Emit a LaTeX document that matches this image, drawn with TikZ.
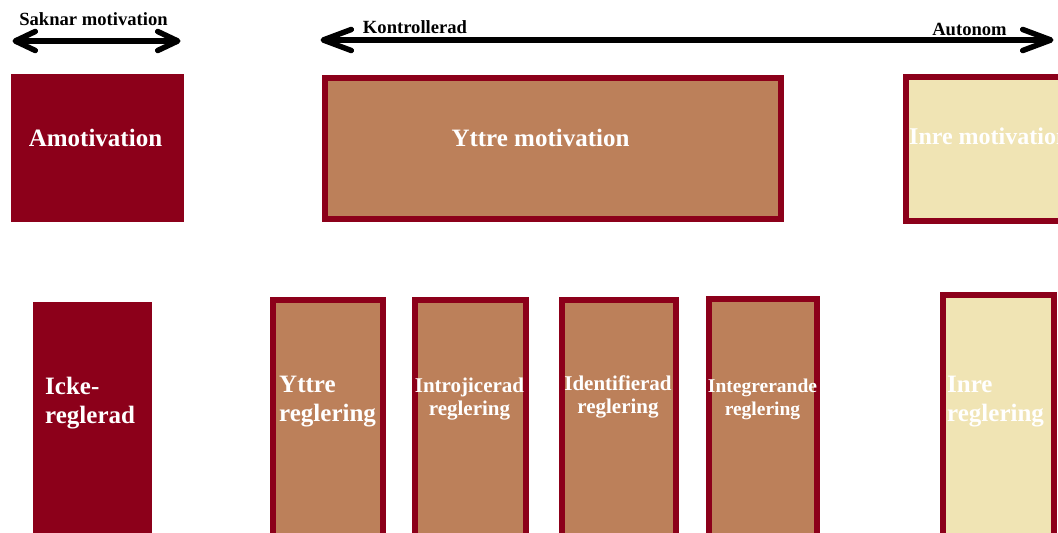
\documentclass[tikz,border=0pt]{standalone}
\usepackage{fontspec}
\setmainfont{Liberation Serif}
\usetikzlibrary{arrows.meta}
\definecolor{motred}{RGB}{140,0,26}
\definecolor{mottan}{RGB}{188,128,90}
\definecolor{motpale}{RGB}{240,228,180}

\begin{document}
\begin{tikzpicture}[x=1pt, y=-1pt,
  darkbox/.style={rectangle, fill=motred, inner sep=0},
  tanbox/.style={rectangle, fill=mottan, draw=motred, line width=6pt, inner sep=0},
  palebox/.style={rectangle, fill=motpale, draw=motred, line width=6pt, inner sep=0},
  bigtext/.style={text=white, inner sep=0, font=\fontsize{25}{29}\selectfont\bfseries},
  smalltext/.style={text=white, inner sep=0, font=\fontsize{21}{23.5}\selectfont\bfseries},
  arrowtext/.style={text=black, inner sep=0, font=\fontsize{18.6}{22}\selectfont\bfseries},
  motarrow/.style={line width=5.5pt, line cap=round,
    {Straight Barb[round, length=28pt, width=21pt]}-{Straight Barb[round, length=28pt, width=21pt]}},
  smallarrow/.style={line width=5.5pt, line cap=round,
    {Straight Barb[round, length=20pt, width=19pt]}-{Straight Barb[round, length=20pt, width=19pt]}}]
  \useasboundingbox (0,0) rectangle (1058,533);
  \clip (0,0) rectangle (1058,533);

  % Top boxes
  \draw (97.5,148)  node(amot)  [darkbox, minimum width=173, minimum height=148] {};
  \draw (553,148.5) node(ytmot) [tanbox,  minimum width=456, minimum height=141] {};
  \draw (996.5,149) node(inmot) [palebox, minimum width=181, minimum height=144] {};

  \draw (95.5,146)  node(amottext)  [bigtext, anchor=base] {Amotivation};
  \draw (540.5,146) node(ytmottext) [bigtext, anchor=base] {Yttre motivation};
  \draw (909,144)   node(inmottext) [bigtext, anchor=base west, font=\fontsize{24}{28}\selectfont\bfseries] {Inre motivation};

  % Bottom boxes
  \draw (92.5,421)  node(icke)  [darkbox, minimum width=119, minimum height=238] {};
  \draw (328,422.5) node(ytreg) [tanbox,  minimum width=110, minimum height=245] {};
  \draw (470.5,422.5) node(intro) [tanbox, minimum width=111, minimum height=245] {};
  \draw (619,422.5) node(ident) [tanbox,  minimum width=114, minimum height=245] {};
  \draw (763,422)   node(integ) [tanbox,  minimum width=108, minimum height=246] {};
  \draw (998.5,420) node(inreg) [palebox, minimum width=111, minimum height=250] {};

  \draw (45,403.5)  node(icketext)  [bigtext, anchor=west, align=left] {Icke-\\reglerad};
  \draw (279,402)   node(ytregtext) [bigtext, anchor=west, align=left] {Yttre\\reglering};
  \draw (469.5,399) node(introtext) [smalltext, align=center] {Introjicerad\\reglering};
  \draw (618,397)   node(identtext) [smalltext, align=center] {Identifierad\\reglering};
  \draw (762.5,399.5) node(integtext) [smalltext, align=center, font=\fontsize{19.5}{23.5}\selectfont\bfseries] {Integrerande\\reglering};
  \draw (947,401.5) node(inregtext) [bigtext, anchor=west, align=left] {Inre\\reglering};

  % Arrows
  \coordinate (saknarL) at (12.5,41);
  \coordinate (saknarR) at (180.5,41);
  \coordinate (kontrL)  at (320.5,40);
  \coordinate (autoR)   at (1053.5,40);
  \draw[smallarrow] (saknarL) -- (saknarR);
  \draw[motarrow] (kontrL) -- (autoR);

  \draw (93.5,25) node(saknar) [arrowtext, anchor=base] {Saknar motivation};
  \draw (415,33)  node(kontr)  [arrowtext, anchor=base] {Kontrollerad};
  \draw (969.5,35) node(auto)  [arrowtext, anchor=base] {Autonom};
\end{tikzpicture}
\end{document}
